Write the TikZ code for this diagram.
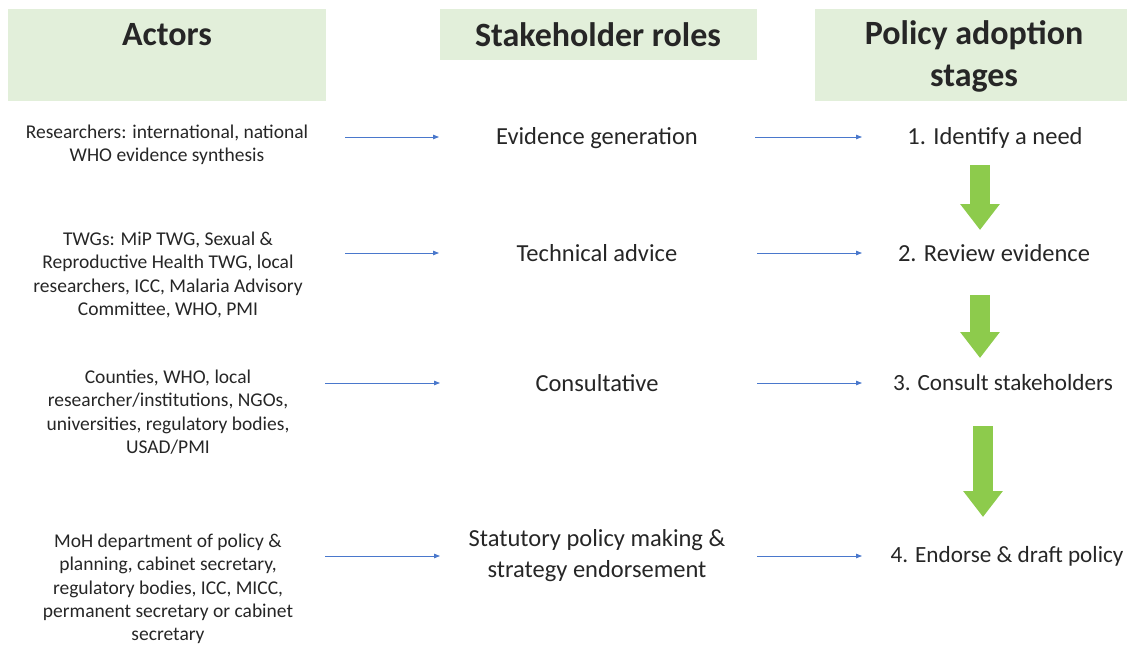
\documentclass[tikz,border=0pt]{standalone}
\usepackage{fontspec}
\setmainfont{Carlito}
\usetikzlibrary{arrows.meta}
\definecolor{headgreen}{HTML}{E2EFDA}
\definecolor{linkblue}{HTML}{4A78CC}
\definecolor{stagegreen}{HTML}{8DCB4C}

\begin{document}
\begin{tikzpicture}[x=1pt, y=-1pt]
    \tikzstyle{every node}=[align=center, inner sep=0pt, text=black!85]
    \tikzstyle{head}=[font=\fontsize{34}{42}\selectfont\bfseries]
    \tikzstyle{actor}=[font=\fontsize{19.5}{23.3}\selectfont]
    \tikzstyle{role}=[font=\fontsize{24.5}{31}\selectfont]
    \tikzstyle{stage}=[font=\fontsize{23.2}{31}\selectfont]
    \tikzstyle{link}=[linkblue, line width=0.8pt, -{Triangle[length=6pt, width=4.5pt]}]
    \tikzstyle{stagearrow}=[stagegreen, line width=20pt, -{Triangle[length=26pt, width=38pt]}]

    \useasboundingbox (0,0) rectangle (1129,646);

    \fill[headgreen] (8,9) rectangle (326,101);
    \fill[headgreen] (440,9) rectangle (757,60);
    \fill[headgreen] (815,9) rectangle (1127,101);

    \node[head] (hactors) at (167,35) {Actors};
    \node[head] (hroles) at (598,35) {Stakeholder roles};
    \node[head] (hstages) at (974,56) {Policy adoption\\stages};

    \node[actor] (a1) at (167,145) {Researchers: international, national\\WHO evidence synthesis};
    \node[actor] (a2) at (168,275) {TWGs: MiP TWG, Sexual \&\\Reproductive Health TWG, local\\researchers, ICC, Malaria Advisory\\Committee, WHO, PMI};
    \node[actor] (a3) at (168,412) {Counties, WHO, local\\researcher/institutions, NGOs,\\universities, regulatory bodies,\\USAD/PMI};
    \node[actor] (a4) at (168,589) {MoH department of policy \&\\planning, cabinet secretary,\\regulatory bodies, ICC, MICC,\\permanent secretary or cabinet\\secretary};

    \node[role] (r1) at (597,138) {Evidence generation};
    \node[role] (r2) at (597,253) {Technical advice};
    \node[role] (r3) at (597,383) {Consultative};
    \node[role] (r4) at (597,556) {Statutory policy making \&\\strategy endorsement};

    \node[role] (s1) at (995,138) {1. Identify a need};
    \node[role] (s2) at (994,253) {2. Review evidence};
    \node[stage] (s3) at (1003,383) {3. Consult stakeholders};
    \node[stage] (s4) at (1007,556) {4. Endorse \& draft policy};

    \coordinate (a1e) at (345,137);
    \coordinate (a2e) at (345,253);
    \coordinate (a3e) at (325,383);
    \coordinate (a4e) at (325,556);
    \coordinate (r1w) at (439,137);
    \coordinate (r2w) at (439,253);
    \coordinate (r3w) at (440,383);
    \coordinate (r4w) at (440,556);
    \coordinate (r1e) at (755,137);
    \coordinate (r2e) at (757,253);
    \coordinate (r3e) at (757,383);
    \coordinate (r4e) at (757,556);
    \coordinate (s1w) at (862,137);
    \coordinate (s2w) at (862,253);
    \coordinate (s3w) at (862,383);
    \coordinate (s4w) at (862,556);

    \draw[link] (a1e) -- (r1w);
    \draw[link] (a2e) -- (r2w);
    \draw[link] (a3e) -- (r3w);
    \draw[link] (a4e) -- (r4w);
    \draw[link] (r1e) -- (s1w);
    \draw[link] (r2e) -- (s2w);
    \draw[link] (r3e) -- (s3w);
    \draw[link] (r4e) -- (s4w);

    \coordinate (g1a) at (980,165);
    \coordinate (g1b) at (980,230);
    \coordinate (g2a) at (980,295);
    \coordinate (g2b) at (980,358);
    \coordinate (g3a) at (983,426);
    \coordinate (g3b) at (983,517);

    \draw[stagearrow] (g1a) -- (g1b);
    \draw[stagearrow] (g2a) -- (g2b);
    \draw[stagearrow] (g3a) -- (g3b);
\end{tikzpicture}
\end{document}
